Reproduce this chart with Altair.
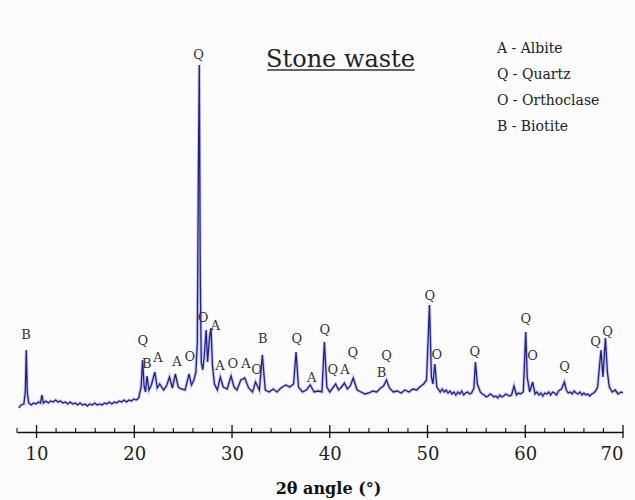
import altair as alt
import pandas as pd

# ---- XRD pattern (2theta in degrees, intensity in arbitrary units) ----
two_theta = [
    8.2, 8.4, 8.7, 8.85, 8.95, 9.05, 9.2, 9.45, 9.7, 9.95, 10.2, 10.4,
    10.55, 10.7, 10.95, 11.2, 11.45, 11.7, 11.95, 12.2, 12.45, 12.7, 12.95, 13.2,
    13.45, 13.7, 13.95, 14.2, 14.45, 14.7, 14.95, 15.2, 15.45, 15.7, 15.95, 16.2,
    16.45, 16.7, 16.95, 17.2, 17.45, 17.7, 17.95, 18.2, 18.45, 18.7, 18.95, 19.2,
    19.45, 19.7, 19.95, 20.2, 20.45, 20.7, 20.85, 21.0, 21.15,
    21.3, 21.5, 21.75, 22.1, 22.35, 22.6, 23.0, 23.3, 23.6, 23.9, 24.2, 24.5,
    24.8, 25.2, 25.6, 25.85, 26.1, 26.3, 26.45, 26.55, 26.65, 26.75, 26.85,
    27.0, 27.15, 27.35, 27.5, 27.7, 27.85, 28.0, 28.2, 28.5, 28.8, 29.1, 29.5,
    29.9, 30.2, 30.5, 30.9, 31.3, 31.7, 32.1, 32.4, 32.8, 33.1, 33.4, 33.8,
    34.2, 34.6, 35.0, 35.5, 35.9, 36.3, 36.55, 36.8, 37.2, 37.6, 38.0, 38.4,
    38.8, 39.2, 39.45, 39.7, 40.0, 40.3, 40.6, 40.9, 41.2, 41.5, 41.8, 42.1,
    42.4, 42.8, 43.2, 43.6, 44.0, 44.4, 44.8, 45.2, 45.5, 45.8, 46.1, 46.5,
    46.9, 47.3, 47.7, 48.1, 48.5, 48.9, 49.2, 49.6, 49.9, 50.2, 50.4, 50.55,
    50.75, 50.95, 51.3, 51.5, 51.7, 51.9, 52.1, 52.3, 52.5, 52.7, 52.9, 53.1,
    53.3, 53.5, 53.7, 53.9, 54.1, 54.3, 54.5, 54.75,
    54.9, 55.1, 55.4, 55.6, 55.8, 56.0, 56.2, 56.4, 56.6, 56.8, 57.0, 57.2,
    57.4, 57.6, 57.8, 58.0, 58.2, 58.4, 58.6, 58.85,
    59.1, 59.3, 59.5, 59.8, 60.05, 60.2, 60.45, 60.75, 61.0, 61.2, 61.4, 61.6,
    61.8, 62.0, 62.2, 62.4, 62.6, 62.8,
    63.0, 63.2, 63.4, 63.7, 64.0, 64.2, 64.4, 64.6, 64.8, 65.0, 65.2, 65.4,
    65.6, 65.8, 66.0, 66.2, 66.4, 66.6, 66.8, 67.0,
    67.2, 67.4, 67.75, 67.95, 68.2, 68.4, 68.6, 68.9, 69.2, 69.5, 69.8, 70.0,
]
intensity = [
    24, 27, 28, 40, 82, 40, 29, 27, 29, 28, 30, 29,
    37, 29, 31, 29, 31, 30, 32, 30, 31, 29, 30, 28,
    30, 28, 29, 27, 29, 27, 28, 26, 28, 27, 29, 27,
    28, 27, 29, 28, 30, 28, 30, 29, 31, 30, 32, 30,
    32, 31, 33, 32, 34, 45, 72, 46, 40,
    56, 42, 47, 60, 44, 48, 42, 46, 55, 44, 58, 45,
    43, 42, 58, 47, 52, 60, 90, 250, 367, 160, 70,
    62, 75, 102, 70, 95, 104, 66, 48, 42, 55, 45, 43,
    56, 45, 42, 52, 54, 44, 40, 50, 42, 77, 42, 40,
    43, 40, 44, 47, 45, 48, 80, 45, 40, 42, 47, 40,
    41, 40, 90, 45, 40, 44, 48, 42, 45, 49, 43, 46,
    54, 42, 40, 38, 39, 41, 40, 44, 46, 52, 44, 40,
    41, 39, 42, 40, 43, 42, 45, 48, 52, 127, 55, 48,
    68, 45, 40, 43, 40, 42, 39, 41, 38, 40, 37, 40,
    38, 41, 37, 39, 40, 38, 39, 44,
    70, 48, 40, 38, 37, 35, 36, 38, 37, 35, 36, 34,
    37, 35, 36, 38, 37, 36, 37, 46,
    37, 39, 38, 40, 100, 55, 40, 50, 38, 40, 37, 39,
    36, 39, 38, 40, 37, 40,
    39, 37, 41, 43, 50, 42, 39, 40, 38, 41, 39, 38,
    40, 37, 39, 37, 38, 36, 38, 39,
    41, 45, 82, 55, 94, 60, 45, 40, 42, 38, 40, 39,
]

# ---- phase labels over the peaks ----
label_text = ["B", "Q", "B", "A", "A", "O", "Q", "O", "A", "A", "O", "A", "O",
              "B", "Q", "A", "Q", "Q", "A", "Q", "B", "Q", "Q", "O", "Q", "Q",
              "O", "Q", "Q", "Q"]
label_x = [8.92, 20.88, 21.29, 22.42, 24.36, 25.69, 26.58, 27.05, 28.3, 28.76,
           30.09, 31.42, 32.5, 33.15, 36.63, 38.16, 39.5, 40.3, 41.54, 42.36,
           45.3, 45.8, 50.23, 50.94, 54.83, 60.05, 60.76, 64.03, 67.2, 68.41]
label_y = [97, 91, 68, 74, 70, 75, 377, 114, 106, 66,
           68, 68, 62, 93, 93, 54, 102, 62, 62, 79,
           59, 76, 136, 77, 80, 113, 76, 65, 90, 100]

# ---- key of phases ----
legend_lines = ["A - Albite", "Q - Quartz", "O - Orthoclase", "B - Biotite"]
legend_y = [383, 357, 331, 305]
legend_x = 57.1

title_text = "Stone waste"
title_x = 41.1
title_y = 365
underline_x = [33.6, 48.7]
underline_y = 362

major_ticks = [10, 20, 30, 40, 50, 60, 70]
minor_ticks = [8, 12, 14, 16, 18, 22, 24, 26, 28, 32, 34, 36, 38, 42, 44, 46,
               48, 52, 54, 56, 58, 62, 64, 66, 68]

FONT = "DejaVu Serif"

xs = alt.Scale(domain=[8, 70], nice=False, zero=False)
ys = alt.Scale(domain=[0, 412], nice=False, zero=False)

pattern = pd.DataFrame({"theta": two_theta, "counts": intensity})
labels = pd.DataFrame({"t": label_text, "x": label_x, "y": label_y})
legend = pd.DataFrame({"t": legend_lines, "y": legend_y, "x": [legend_x] * 4})
majors = pd.DataFrame({"x": major_ticks, "lo": [-6] * len(major_ticks), "hi": [7] * len(major_ticks)})
minors = pd.DataFrame({"x": minor_ticks, "lo": [-1] * len(minor_ticks), "hi": [4] * len(minor_ticks)})
title_df = pd.DataFrame({"t": [title_text], "x": [title_x], "y": [title_y]})
under_df = pd.DataFrame({"x": [underline_x[0]], "x2": [underline_x[1]], "y": [underline_y]})

x_axis = alt.Axis(
    values=major_ticks, ticks=False, grid=False, format="d",
    domainColor="#111", domainWidth=1.3,
    labelFont=FONT, labelFontSize=18, labelColor="#222", labelPadding=13,
    title="2θ angle (°)", titleFont=FONT, titleFontSize=16, titleFontWeight="bold",
    titleColor="#111", titleY=56, titleX=311, titleBaseline="middle",
)

halo = alt.Chart(pattern).mark_line(color="#9da0d6", strokeWidth=3.2, opacity=0.55).encode(
    x=alt.X("theta:Q", scale=xs, axis=x_axis),
    y=alt.Y("counts:Q", scale=ys, axis=None),
)
line = alt.Chart(pattern).mark_line(color="#20208c", strokeWidth=1.3).encode(
    x=alt.X("theta:Q", scale=xs),
    y=alt.Y("counts:Q", scale=ys, axis=None),
)
major_rules = alt.Chart(majors).mark_rule(color="#111", strokeWidth=1.3).encode(
    x=alt.X("x:Q", scale=xs), y=alt.Y("lo:Q", scale=ys, axis=None), y2="hi:Q"
)
minor_rules = alt.Chart(minors).mark_rule(color="#111", strokeWidth=1.1).encode(
    x=alt.X("x:Q", scale=xs), y=alt.Y("lo:Q", scale=ys, axis=None), y2="hi:Q"
)
peak_labels = alt.Chart(labels).mark_text(
    font=FONT, fontSize=13, color="#333", align="center", baseline="middle"
).encode(x=alt.X("x:Q", scale=xs), y=alt.Y("y:Q", scale=ys, axis=None), text="t:N")
key = alt.Chart(legend).mark_text(
    font=FONT, fontSize=14, color="#222", align="left", baseline="middle"
).encode(x=alt.X("x:Q", scale=xs), y=alt.Y("y:Q", scale=ys, axis=None), text="t:N")
title = alt.Chart(title_df).mark_text(
    font=FONT, fontSize=24, color="#222", align="center", baseline="alphabetic"
).encode(x=alt.X("x:Q", scale=xs), y=alt.Y("y:Q", scale=ys, axis=None), text="t:N")
underline = alt.Chart(under_df).mark_rule(color="#333", strokeWidth=1.5).encode(
    x=alt.X("x:Q", scale=xs), x2="x2:Q", y=alt.Y("y:Q", scale=ys, axis=None)
)

chart = alt.layer(
    halo, line, major_rules, minor_rules, peak_labels, key, title, underline
).properties(
    width=606, height=412,
    autosize=alt.AutoSizeParams(type="none"),
    padding={"left": 17, "top": 20, "right": 12, "bottom": 68},
    background="#fcfcfc",
).configure_view(stroke=None)

chart.save("out.html", embed_options={"renderer": "svg", "actions": False})
